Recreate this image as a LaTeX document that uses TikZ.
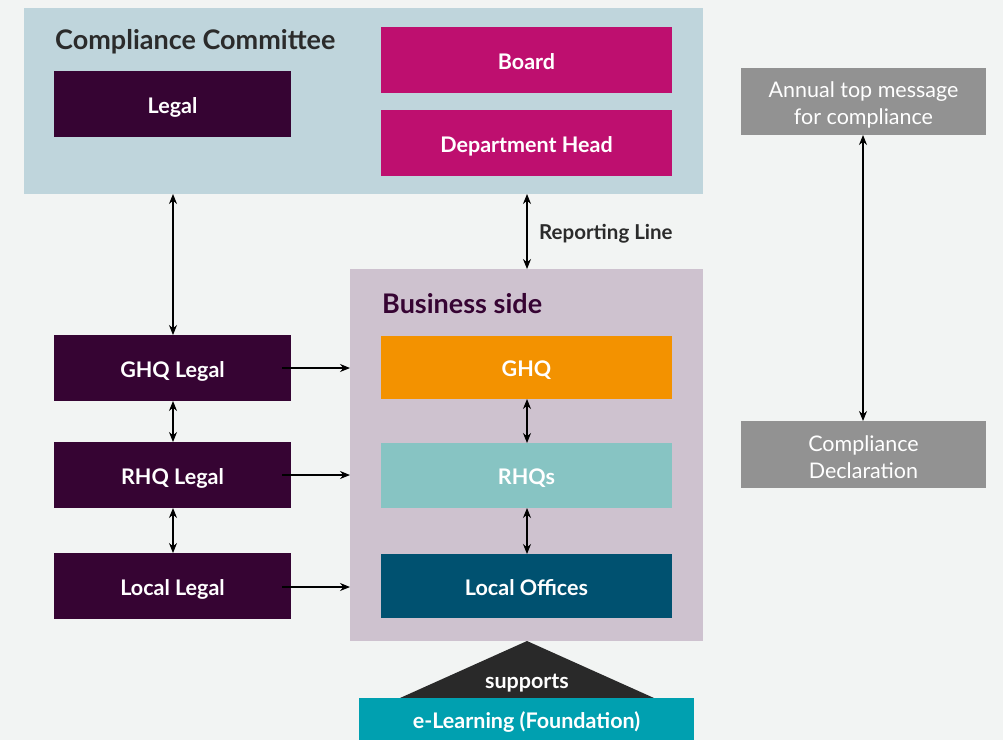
\documentclass[tikz,border=0pt]{standalone}
\usepackage{fontspec}
\setmainfont{Lato}
\usetikzlibrary{arrows.meta}
\definecolor{bg}{HTML}{F2F4F3}
\definecolor{ccbox}{HTML}{BFD5DC}
\definecolor{bsbox}{HTML}{CEC2CF}
\definecolor{legalc}{HTML}{360433}
\definecolor{magc}{HTML}{BE0F6F}
\definecolor{ghqc}{HTML}{F39200}
\definecolor{rhqc}{HTML}{87C4C3}
\definecolor{locc}{HTML}{005170}
\definecolor{greyc}{HTML}{929292}
\definecolor{darkc}{HTML}{292929}
\definecolor{elc}{HTML}{00A0B0}
\definecolor{txtc}{HTML}{2B2B2B}
\tikzset{
  x=1pt, y=-1pt,
  boxlbl/.style={font=\bfseries\fontsize{21.5}{24}\selectfont, text=white, anchor=base, inner sep=0},
  greylbl/.style={font=\fontsize{21.5}{27}\selectfont, text=white, align=center},
  arr/.style={line width=1.1pt, -{Stealth[length=10pt,width=8pt]}},
  darr/.style={line width=1.1pt, {Stealth[length=10pt,width=8pt]}-{Stealth[length=10pt,width=8pt]}},
}
\begin{document}
\begin{tikzpicture}
\fill[bg] (0,0) rectangle (1003,740);
\useasboundingbox (0,0) rectangle (1003,740);
% Compliance committee
\fill[ccbox] (24,8) rectangle (703,194);
\coordinate (ccbot1) at (173,194);
\coordinate (ccbot2) at (527,194);
\node[anchor=base west, font=\bfseries\fontsize{27}{29}\selectfont, text=txtc, inner sep=0] (cctitle) at (55,49) {Compliance Committee};
\fill[legalc] (54,71) rectangle (291,137);
\node[boxlbl] (legal) at (172.5,113) {Legal};
\fill[magc] (381,27) rectangle (672,93);
\node[boxlbl] (board) at (526.5,69) {Board};
\fill[magc] (381,110) rectangle (672,176);
\node[boxlbl] (dept) at (526.5,152) {Department Head};
% Business side
\fill[bsbox] (350,269) rectangle (703,641);
\coordinate (bstop) at (527,269);
\coordinate (bsl1) at (350,368);
\coordinate (bsl2) at (350,475);
\coordinate (bsl3) at (350,587);
\coordinate (bsbot) at (527,641);
\node[anchor=base west, font=\bfseries\fontsize{27}{29}\selectfont, text=legalc, inner sep=0] (bstitle) at (382,313) {Business side};
\fill[ghqc] (381,336) rectangle (672,399);
\node[boxlbl] (ghq) at (526.5,376) {GHQ};
\fill[rhqc] (381,443) rectangle (672,508);
\node[boxlbl] (rhq) at (526.5,484) {RHQs};
\fill[locc] (381,554) rectangle (672,618);
\node[boxlbl] (loc) at (526.5,595) {Local Offices};
\coordinate (ghqb) at (527,399); \coordinate (rhqt) at (527,443);
\coordinate (rhqb) at (527,508); \coordinate (loct) at (527,554);
% Legal column
\fill[legalc] (54,335) rectangle (291,401);
\node[boxlbl] (ghql) at (172.5,377) {GHQ Legal};
\fill[legalc] (54,442) rectangle (291,508);
\node[boxlbl] (rhql) at (172.5,484) {RHQ Legal};
\fill[legalc] (54,553) rectangle (291,619);
\node[boxlbl] (locl) at (172.5,595) {Local Legal};
\coordinate (ghqlt) at (173,335); \coordinate (ghqlb) at (173,401);
\coordinate (rhqlt) at (173,442); \coordinate (rhqlb) at (173,508);
\coordinate (loclt) at (173,553);
\coordinate (ghqle) at (282,368); \coordinate (rhqle) at (282,475); \coordinate (locle) at (282,587);
% Grey boxes
\fill[greyc] (741,68) rectangle (986,135);
\node[greylbl] (annual) at (863.5,105) {Annual top message\\for compliance};
\fill[greyc] (741,421) rectangle (986,488);
\node[greylbl] (decl) at (863.5,457.5) {Compliance\\Declaration};
\coordinate (annb) at (863,135); \coordinate (declt) at (863,421);
% Arrows
\draw[darr] (ccbot1) -- (ghqlt);
\draw[darr] (ccbot2) -- (bstop);
\node[anchor=base west, font=\bfseries\fontsize{20.5}{22}\selectfont, text=txtc, inner sep=0] (rep) at (539,239) {Reporting Line};
\draw[darr] (ghqlb) -- (rhqlt);
\draw[darr] (rhqlb) -- (loclt);
\draw[darr] (ghqb) -- (rhqt);
\draw[darr] (rhqb) -- (loct);
\draw[arr] (ghqle) -- (bsl1);
\draw[arr] (rhqle) -- (bsl2);
\draw[arr] (locle) -- (bsl3);
\draw[darr] (annb) -- (declt);
% supports
\fill[darkc] (bsbot) -- (654,698) -- (400,698) -- cycle;
\node[boxlbl] (sup) at (527,688) {supports};
\fill[elc] (359,698) rectangle (694,740);
\node[boxlbl] (elearn) at (526.5,728) {e-Learning (Foundation)};
\end{tikzpicture}
\end{document}
